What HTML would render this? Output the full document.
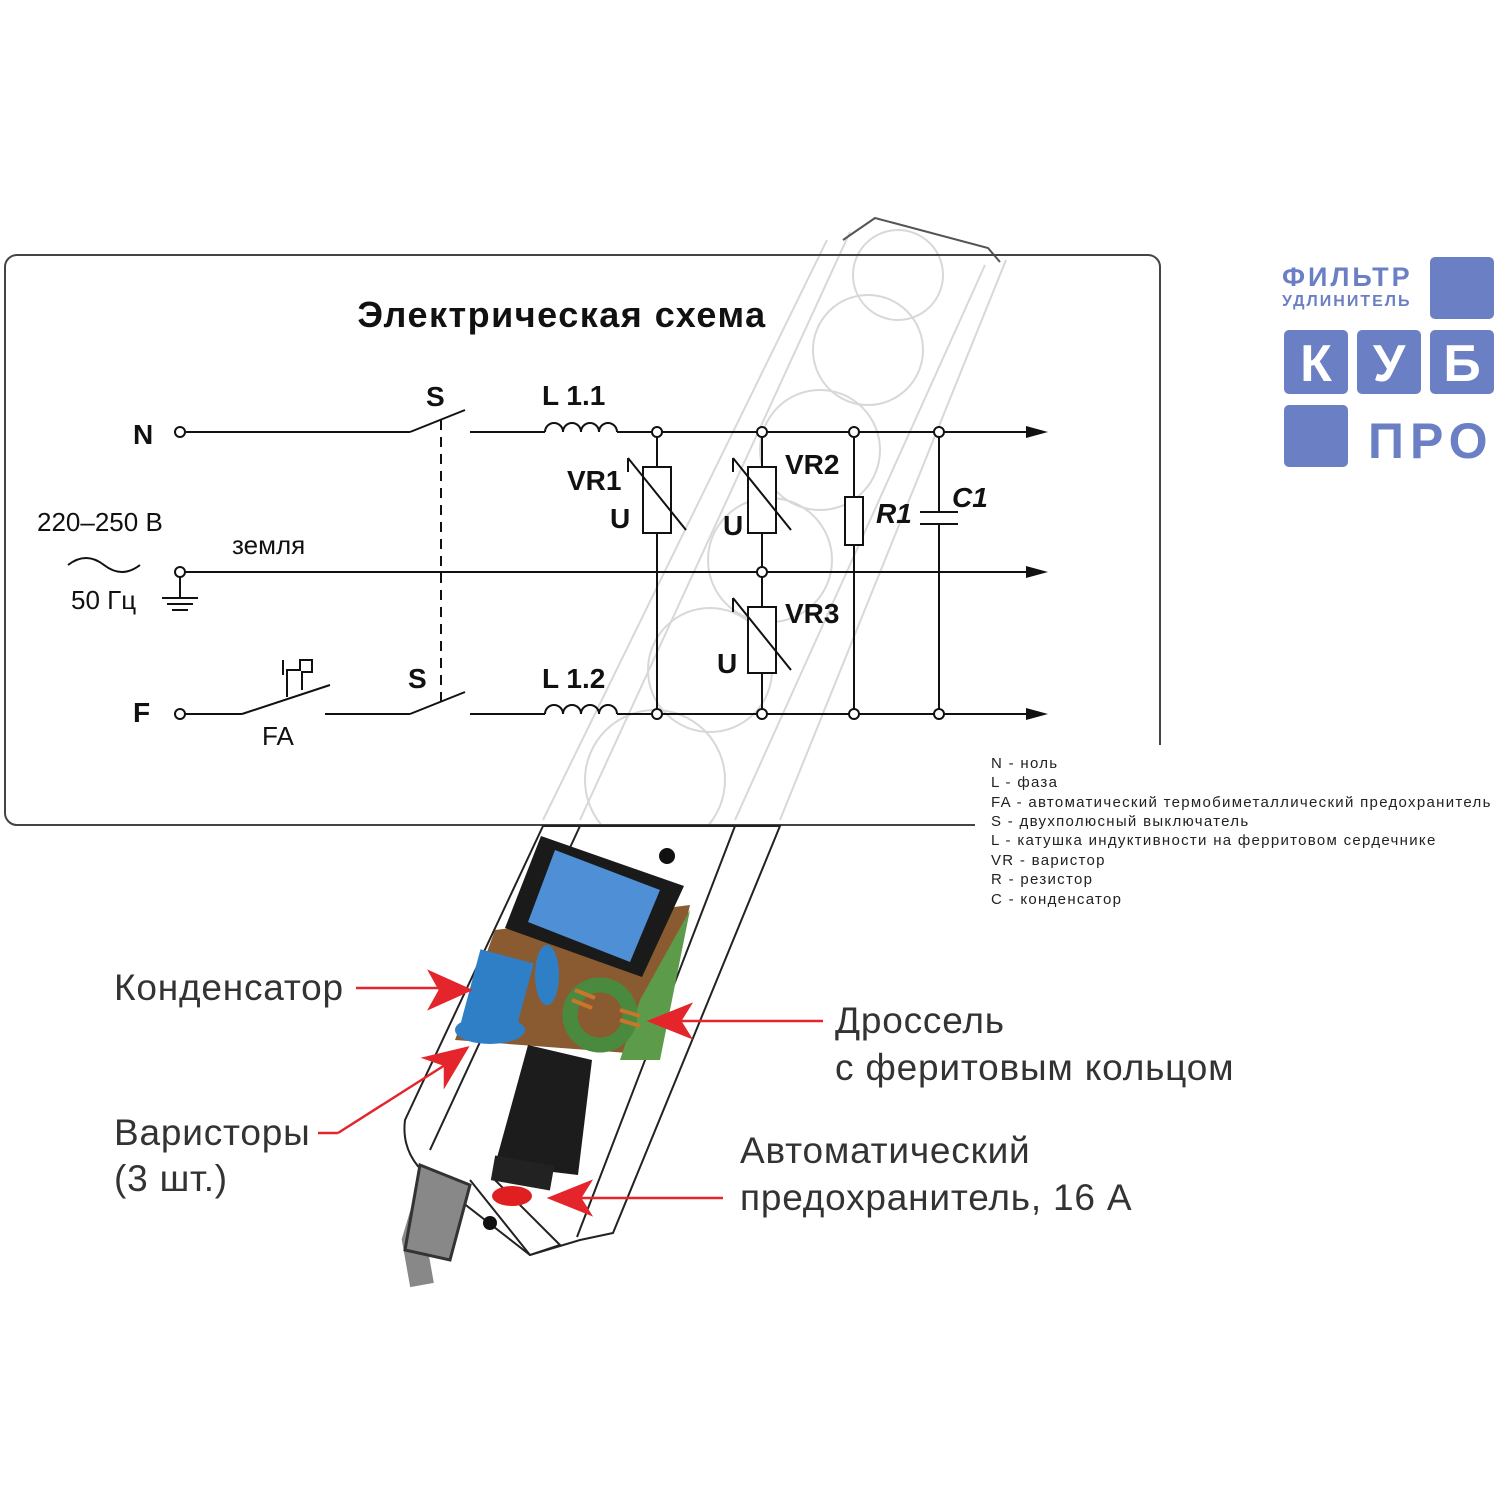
<!DOCTYPE html>
<html><head><meta charset="utf-8"><style>
body{margin:0;background:#fff;}
svg text{font-family:"Liberation Sans",sans-serif;}
</style></head><body>
<svg width="1500" height="1500" viewBox="0 0 1500 1500" xmlns="http://www.w3.org/2000/svg">
<rect width="1500" height="1500" fill="#fff"/>
<g fill="none" stroke="#d8d8d8" stroke-width="2">
<path d="M827,240 L543,820"/>
<path d="M1006,260 L780,820"/>
<path d="M850,232 L580,820"/>
<path d="M985,265 L735,820"/>
<circle cx="898" cy="275" r="45"/><circle cx="868" cy="350" r="55"/><circle cx="820" cy="450" r="60"/>
<circle cx="770" cy="560" r="62"/><circle cx="710" cy="670" r="62"/><circle cx="655" cy="780" r="70"/>
</g>
<path d="M843,240 L875,218 L988,248 L1000,262" fill="none" stroke="#555" stroke-width="2"/>
<rect x="5" y="255" width="1155" height="570" rx="12" fill="none" stroke="#444" stroke-width="2"/>
<rect x="975" y="745" width="525" height="170" fill="#fff"/>
<text x="562" y="327" font-size="36" text-anchor="middle" fill="#111" font-weight="bold" letter-spacing="1.5">Электрическая схема</text>
<g stroke="#111" stroke-width="2" fill="none">
<line x1="185" y1="432" x2="410" y2="432"/>
<line x1="410" y1="432" x2="465" y2="410"/>
<line x1="470" y1="432" x2="545" y2="432"/>
<path d="M545,432 a9,9 0 0 1 18,0 a9,9 0 0 1 18,0 a9,9 0 0 1 18,0 a9,9 0 0 1 18,0"/>
<line x1="617" y1="432" x2="1030" y2="432"/>
<line x1="185" y1="572" x2="1030" y2="572"/>
<line x1="185" y1="714" x2="242" y2="714"/>
<line x1="242" y1="714" x2="330" y2="685"/>
<line x1="325" y1="714" x2="410" y2="714"/>
<line x1="410" y1="714" x2="465" y2="692"/>
<line x1="470" y1="714" x2="545" y2="714"/>
<path d="M545,714 a9,9 0 0 1 18,0 a9,9 0 0 1 18,0 a9,9 0 0 1 18,0 a9,9 0 0 1 18,0"/>
<line x1="617" y1="714" x2="1030" y2="714"/>
<line x1="441" y1="420" x2="441" y2="702" stroke-dasharray="10,7"/>
<line x1="180" y1="572" x2="180" y2="598"/>
<line x1="162" y1="598" x2="198" y2="598"/><line x1="167" y1="604" x2="193" y2="604"/><line x1="172" y1="610" x2="188" y2="610"/>
<path d="M68,565 q18,-14 36,0 t36,0"/>
<path d="M287,697 L287,670 L300,670 L300,660 L312,660 L312,672 L302,672 L302,690"/>
<line x1="283" y1="675" x2="283" y2="660"/>
<line x1="657" y1="432" x2="657" y2="714"/>
<line x1="762" y1="432" x2="762" y2="714"/>
<line x1="854" y1="432" x2="854" y2="714"/>
<line x1="939" y1="432" x2="939" y2="512"/><line x1="939" y1="524" x2="939" y2="714"/>
<line x1="920" y1="512" x2="958" y2="512"/><line x1="920" y1="524" x2="958" y2="524"/>
<rect x="643" y="467" width="28" height="66" fill="#fff"/>
<line x1="628" y1="458" x2="686" y2="530"/><line x1="628" y1="458" x2="628" y2="472"/>
<rect x="748" y="467" width="28" height="66" fill="#fff"/>
<line x1="733" y1="458" x2="791" y2="530"/><line x1="733" y1="458" x2="733" y2="472"/>
<rect x="748" y="607" width="28" height="66" fill="#fff"/>
<line x1="733" y1="598" x2="791" y2="670"/><line x1="733" y1="598" x2="733" y2="612"/>
<rect x="845" y="497" width="18" height="48" fill="#fff"/>
</g>
<g fill="#fff" stroke="#111" stroke-width="2">
<circle cx="180" cy="432" r="5"/><circle cx="180" cy="572" r="5"/><circle cx="180" cy="714" r="5"/>
<circle cx="657" cy="432" r="5"/><circle cx="762" cy="432" r="5"/><circle cx="854" cy="432" r="5"/><circle cx="939" cy="432" r="5"/>
<circle cx="762" cy="572" r="5"/>
<circle cx="657" cy="714" r="5"/><circle cx="762" cy="714" r="5"/><circle cx="854" cy="714" r="5"/><circle cx="939" cy="714" r="5"/>
</g>
<g fill="#111"><path d="M1048,432 L1026,426 L1026,438Z"/><path d="M1048,572 L1026,566 L1026,578Z"/><path d="M1048,714 L1026,708 L1026,720Z"/></g>
<g font-size="28" font-weight="bold" fill="#111">
<text x="133" y="444">N</text><text x="133" y="722">F</text>
<text x="426" y="406">S</text><text x="408" y="688">S</text>
<text x="542" y="405">L 1.1</text><text x="542" y="688">L 1.2</text>
<text x="567" y="490">VR1</text><text x="785" y="474">VR2</text><text x="785" y="623">VR3</text>
<text x="610" y="528">U</text><text x="723" y="535">U</text><text x="717" y="673">U</text>
<text x="876" y="523" font-style="italic">R1</text><text x="952" y="507" font-style="italic">C1</text>
</g>
<g font-size="26" fill="#111">
<text x="37" y="531">220–250 В</text><text x="232" y="554">земля</text>
<text x="71" y="609">50 Гц</text><text x="262" y="745">FA</text>
</g>
<g font-size="15" fill="#222" letter-spacing="1.3">
<text x="991" y="768">N - ноль</text><text x="991" y="787">L - фаза</text>
<text x="991" y="807">FA - автоматический термобиметаллический предохранитель</text>
<text x="991" y="826">S - двухполюсный выключатель</text>
<text x="991" y="845">L - катушка индуктивности на ферритовом сердечнике</text>
<text x="991" y="865">VR - варистор</text><text x="991" y="884">R - резистор</text><text x="991" y="904">C - конденсатор</text>
</g>
<g fill="#6b7fc4">
<rect x="1430" y="257" width="64" height="62" rx="5"/>
<rect x="1284" y="330" width="64" height="64" rx="5"/><rect x="1357" y="330" width="64" height="64" rx="5"/><rect x="1430" y="330" width="64" height="64" rx="5"/>
<rect x="1284" y="405" width="64" height="62" rx="5"/>
<text x="1282" y="286" font-size="27" font-weight="bold" letter-spacing="3">ФИЛЬТР</text>
<text x="1282" y="306" font-size="16" font-weight="bold" letter-spacing="2">УДЛИНИТЕЛЬ</text>
<text x="1368" y="458" font-size="50" font-weight="bold" letter-spacing="6">ПРО</text>
</g>
<g fill="#fff" font-size="52" font-weight="bold" text-anchor="middle">
<text x="1316" y="381">К</text><text x="1389" y="381">У</text><text x="1462" y="381">Б</text>
</g>
<path d="M543,826 L405,1120 Q400,1160 440,1185 L530,1255 L580,1240 L613,1233 L780,826Z" fill="#fff" stroke="#222" stroke-width="2"/>
<path d="M580,826 L430,1150 M735,826 L577,1237" fill="none" stroke="#222" stroke-width="2"/>
<path d="M470,1180 L530,1255 L560,1245 L495,1180" fill="#fff" stroke="#222" stroke-width="2"/>
<circle cx="490" cy="1223" r="7" fill="#111"/>
<circle cx="667" cy="856" r="8" fill="#111"/>
<path d="M432,1180 L414,1240 L422,1285" fill="none" stroke="#888" stroke-width="24"/>
<path d="M420,1165 L470,1185 L450,1260 L405,1250Z" fill="#888" stroke="#333" stroke-width="3"/>
<path d="M495,930 L690,905 L655,1055 L455,1040Z" fill="#8a5a30"/>
<path d="M640,1000 L690,910 L660,1060 L620,1060Z" fill="#5c9b4a"/>
<path d="M541,836 L684,886 L642,977 L505,928Z" fill="#1a1a1a"/>
<path d="M555,850 L660,890 L630,962 L528,922Z" fill="#4e8fd6"/>
<rect x="470" y="955" width="55" height="75" fill="#2f7fc7" transform="rotate(15 497 992)"/>
<ellipse cx="490" cy="1030" rx="35" ry="14" fill="#2f7fc7"/>
<ellipse cx="547" cy="975" rx="12" ry="30" fill="#2f7fc7"/>
<circle cx="600" cy="1015" r="30" fill="none" stroke="#4a8a3e" stroke-width="15"/>
<path d="M575,990 l20,8 M572,1000 l20,8 M620,1010 l20,6 M620,1020 l20,6" stroke="#c9752b" stroke-width="4"/>
<path d="M528,1045 L592,1060 L578,1175 L495,1165Z" fill="#1c1c1c"/>
<rect x="493" y="1160" width="60" height="25" fill="#222" transform="rotate(10 520 1170)"/>
<ellipse cx="512" cy="1196" rx="20" ry="10" fill="#e02020"/>
<g stroke="#e4252c" stroke-width="2.5" fill="#e4252c">
<line x1="356" y1="988" x2="440" y2="988"/><path d="M470,990 L430,972 L440,990 L430,1008Z"/>
<line x1="318" y1="1133" x2="338" y2="1133"/><line x1="338" y1="1133" x2="445" y2="1065"/><path d="M467,1048 L425,1058 L445,1065 L445,1085Z"/>
<line x1="680" y1="1021" x2="823" y2="1021"/><path d="M650,1021 L690,1005 L680,1021 L690,1037Z"/>
<line x1="580" y1="1198" x2="723" y2="1198"/><path d="M550,1198 L590,1182 L580,1198 L590,1214Z"/>
</g>
<g font-size="37" fill="#333" letter-spacing="0.8">
<text x="114" y="1000">Конденсатор</text>
<text x="114" y="1145">Варисторы</text><text x="114" y="1191">(3 шт.)</text>
<text x="835" y="1033">Дроссель</text><text x="835" y="1080">с феритовым кольцом</text>
<text x="740" y="1163">Автоматический</text><text x="740" y="1210">предохранитель, 16 А</text>
</g>
</svg>
</body></html>
